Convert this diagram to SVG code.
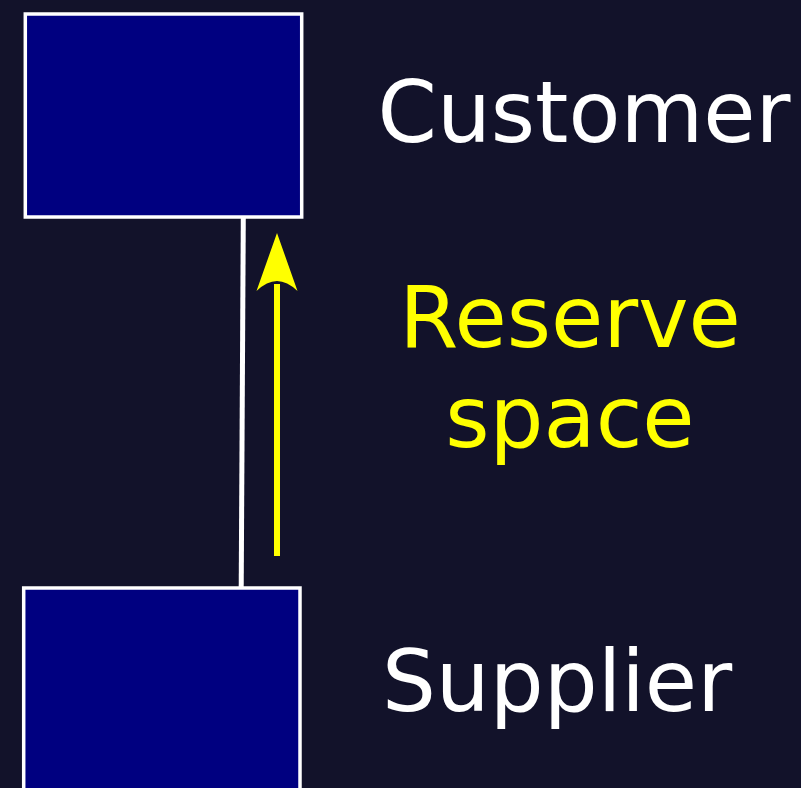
<svg xmlns="http://www.w3.org/2000/svg" width="801" height="788" viewBox="0 0 801 788">
<style>
.box{fill:#000080;stroke:#ffffff;stroke-width:3.5}
.lbl{font-family:"DejaVu Sans",sans-serif;font-size:85px;text-anchor:middle}
.white{fill:#ffffff}
.yellow{fill:#ffff00}
</style>
<rect x="0" y="0" width="801" height="788" fill="#12122a"/>
<g id="customer">
<rect class="box" x="25.3" y="14" width="276.4" height="203"/>
<text class="lbl white" x="584" y="142">Customer</text>
</g>
<g id="supplier">
<rect class="box" x="23.7" y="588" width="276.3" height="220"/>
<text class="lbl white" x="557" y="711">Supplier</text>
</g>
<g id="connectors">
<line x1="243.3" y1="217" x2="241.2" y2="588" stroke="#ffffff" stroke-width="5"/>
<line x1="277" y1="556" x2="277" y2="284" stroke="#ffff00" stroke-width="6"/>
<path d="M277,233 L297.5,291 Q287,281 277,281 Q267,281 256.5,291 Z" fill="#ffff00"/>
</g>
<g id="reserve-label">
<text class="lbl yellow" x="570" y="347">Reserve</text>
<text class="lbl yellow" x="570" y="447">space</text>
</g>
</svg>
